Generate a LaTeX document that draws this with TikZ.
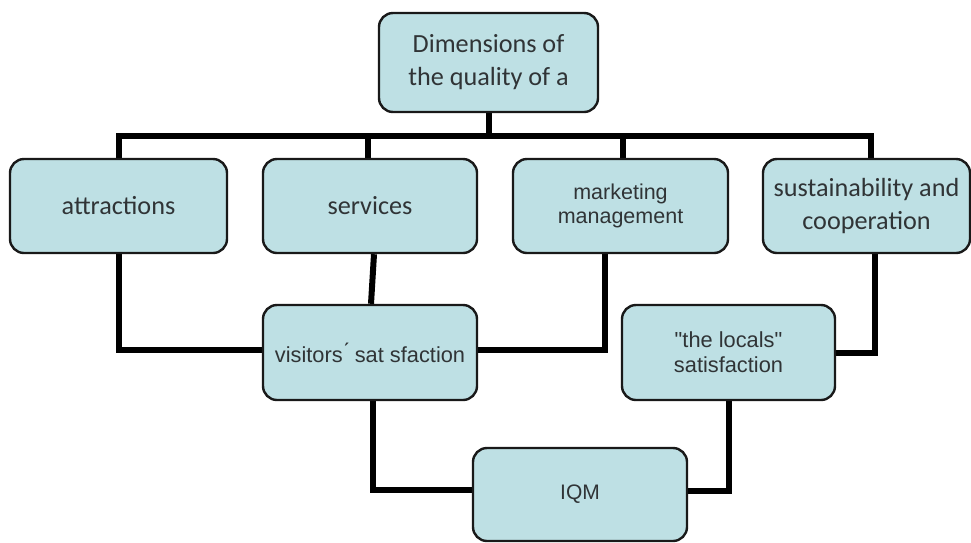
\documentclass[tikz,border=0pt]{standalone}
\usepackage{fontspec}
\setmainfont{Carlito}
\newfontfamily\arialfont{Liberation Sans}
\usetikzlibrary{backgrounds}
\definecolor{boxfill}{RGB}{190,224,228}
\definecolor{boxtext}{RGB}{48,52,54}

\begin{document}
\begin{tikzpicture}[x=1pt,y=-1pt,
    dim/.style={draw=black!90, line width=2.4pt, fill=boxfill, rounded corners=14pt,
        text=boxtext, align=center, inner sep=0pt, minimum height=94pt},
    big/.style={dim, font=\fontsize{26.2}{33}\selectfont},
    small/.style={dim, font=\arialfont\fontsize{21.8}{25}\selectfont},
    link/.style={line width=6pt, black}]
    \useasboundingbox (0,0) rectangle (971,542);

    % Top box
    \node[big, minimum width=219pt, minimum height=99pt] (dims) at (488.5,62.5)
        {Dimensions of\\the quality of a};
    \coordinate (bus) at (488.5,136);

    % Dimensions
    \node[big, minimum width=217pt] (attr) at (118.5,206) {attractions};
    \node[big, minimum width=214pt] (serv) at (370,206) {services};
    \node[small, minimum width=215pt, font=\arialfont\fontsize{21.5}{24}\selectfont] (mark) at (620.5,206)
        {marketing\\management};
    \node[big, minimum width=207pt] (sust) at (866.5,206)
        {sustainability and\\cooperation};

    % Satisfaction
    \node[small, minimum width=214pt, minimum height=95pt] (visit) at (370,352.5)
        {visitors\'{} sat sfaction};
    \node[small, minimum width=213pt, minimum height=95pt] (local) at (728.5,352.5)
        {"the locals"\\satisfaction};

    % IQM
    \node[small, minimum width=214pt, minimum height=93pt, font=\arialfont\fontsize{21}{24}\selectfont]
        (iqm) at (580,494.5) {IQM};

    % Tree lines
    \begin{scope}[on background layer]
    \draw[link] (dims.south) -- (bus);
    \draw[link] (attr.north) |- (bus) -| ([xshift=4pt]sust.north);
    \draw[link] ([xshift=-2pt]serv.north) -- ([xshift=-2pt]serv.north |- bus);
    \draw[link] ([xshift=2.5pt]mark.north) -- ([xshift=2.5pt]mark.north |- bus);

    \draw[link] (attr.south) |- ([yshift=2.5pt]visit.west);
    \draw[link] ([xshift=4pt]serv.south) -- ([xshift=1pt]visit.north);
    \draw[link] ([xshift=-15.5pt]mark.south) |- ([yshift=2.5pt]visit.east);
    \draw[link] ([xshift=8.5pt]sust.south) |- (local.east);

    \draw[link] ([xshift=3pt]visit.south) |- ([yshift=4.5pt]iqm.west);
    \draw[link] (local.south) |- ([yshift=3.5pt]iqm.east);
    \end{scope}
\end{tikzpicture}
\end{document}
